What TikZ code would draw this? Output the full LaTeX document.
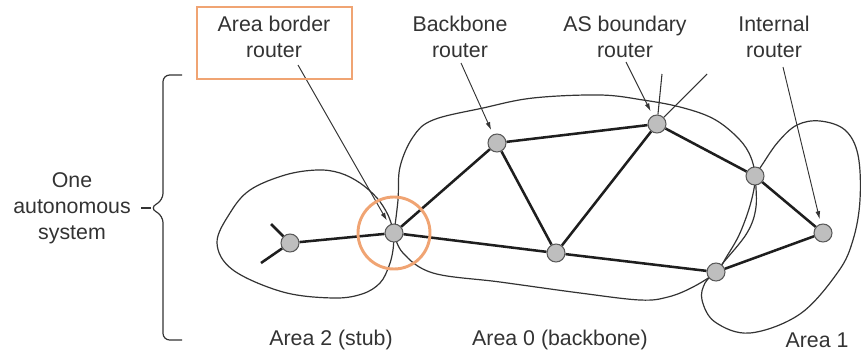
\documentclass[tikz,border=0pt]{standalone}
\usepackage{fontspec}
\setmainfont{Liberation Sans}
\usetikzlibrary{
  arrows.meta,
  backgrounds
}
\definecolor{ink}{HTML}{333333}
\definecolor{wire}{HTML}{1E1E1E}
\definecolor{routerfill}{HTML}{BEBEBE}
\definecolor{routerline}{HTML}{5A5A5A}
\definecolor{accent}{HTML}{F0A473}
\tikzset{
  router/.style={
    circle,
    draw=routerline,
    fill=routerfill,
    line width=0.8pt,
    minimum size=13.5pt,
    inner sep=0pt
  },
  link/.style={
    draw=wire,
    line width=1.9pt
  },
  extlink/.style={
    draw=ink,
    line width=0.8pt
  },
  arealine/.style={
    draw=ink,
    line width=0.9pt
  },
  pointer/.style={
    -{Latex[length=6pt,width=3.6pt]},
    draw=ink,
    line width=0.7pt,
    shorten >=3.5pt
  },
  caption/.style={
    font=\fontsize{16}{19.5}\selectfont,
    text=ink,
    align=center,
    inner sep=0pt
  },
  highlight/.style={
    draw=accent,
    line width=2.2pt
  },
  bracket/.style={
    draw=ink,
    line width=0.9pt,
    rounded corners=5pt
  }
}

\begin{document}
\begin{tikzpicture}[x=0.75pt, y=-0.75pt]
    \useasboundingbox (0,0) rectangle (861,354);
    % routers
    \node[router] (stubr) at (290,243) {};
    \node[router] (abr) at (394,233) {};
    \node[router] (bbr) at (497,143) {};
    \node[router] (core) at (556,253) {};
    \node[router] (asbr) at (657,124) {};
    \node[router] (rim) at (755,176) {};
    \node[router] (foot) at (716,272) {};
    \node[router] (intr) at (823,233) {};
    % labels
    \node[caption] (abrlabel) at (274,37) {Area border\\router};
    \node[caption] (bbrlabel) at (460,37) {Backbone\\router};
    \node[caption] (asbrlabel) at (625,37) {AS boundary\\router};
    \node[caption] (intrlabel) at (774,37) {Internal\\router};
    \node[caption] (aslabel) at (72,208) {One\\autonomous\\system};
    \node[caption] (area2) at (331,340) {Area 2 (stub)};
    \node[caption] (area0) at (560,340) {Area 0 (backbone)};
    \node[caption] (area1) at (817,340) {Area 1};
    % free ends
    \coordinate (stubup) at (271,224);
    \coordinate (stubdown) at (261,263);
    \coordinate (extup) at (662,74);
    \coordinate (extright) at (707,74);
    \coordinate (abrtail) at (298,65);
    \coordinate (bbrtail) at (461,63);
    \coordinate (asbrtail) at (626,62);
    \coordinate (intrtail) at (783,67);
    \coordinate (bracetip) at (141,208);
    \begin{scope}[on background layer]
      % area 2
      \draw[arealine] plot[smooth, tension=0.6] coordinates {
        (abr.center) (388,215) (377,198) (360,183) (340,173) (317,170)
        (285,175) (250,190) (230,213) (217,243) (233,270) (283,292)
        (333,298) (362,294) (380,283) (389,266) (393,250) (abr.center)};
      % area 0
      \draw[arealine] plot[smooth, tension=0.6] coordinates {
        (abr.center) (398,200) (400,167) (413,137) (433,120) (483,108)
        (533,98) (600,95) (643,100) (680,107) (712,118) (735,135)
        (749,153) (rim.center) (751,202) (740,233) (727,256) (foot.center)
        (693,287) (668,297) (640,300) (580,293) (500,282) (433,273)
        (403,253) (abr.center)};
      % area 1
      \draw[arealine] plot[smooth, tension=0.6] coordinates {
        (rim.center) (762,165) (778,142) (797,125) (820,121) (845,130)
        (858,155) (860,200) (853,240) (838,272) (800,314) (750,333)
        (715,322) (702,300) (705,283) (foot.center) (723,263) (747,233)
        (756,207) (rim.center)};
      % links
      \draw[link] (stubr) -- (stubup);
      \draw[link] (stubr) -- (stubdown);
      \draw[link] (stubr) -- (abr);
      \draw[link] (abr) -- (bbr);
      \draw[link] (abr) -- (core);
      \draw[link] (bbr) -- (core);
      \draw[link] (bbr) -- (asbr);
      \draw[link] (asbr) -- (core);
      \draw[link] (asbr) -- (rim);
      \draw[link] (rim) -- (intr);
      \draw[link] (core) -- (foot);
      \draw[link] (foot) -- (intr);
      \draw[extlink] (asbr) -- (extup);
      \draw[extlink] (asbr) -- (extright);
    \end{scope}
    % pointers
    \draw[pointer] (abrtail) -- (abr);
    \draw[pointer] (bbrtail) -- (bbr);
    \draw[pointer] (asbrtail) -- (asbr);
    \draw[pointer] (intrtail) -- (intr);
    % highlight
    \draw[highlight] (197,7) rectangle (352,79);
    \draw[highlight] (abr) circle[radius=27pt];
    % brace
    \draw[bracket] (182,75) -- (163,75) -- (163,200) -- (150,208)
      -- (163,216) -- (163,340) -- (182,340);
    \draw[bracket] (151,208) -- (bracetip);
  \end{tikzpicture}
\end{document}
